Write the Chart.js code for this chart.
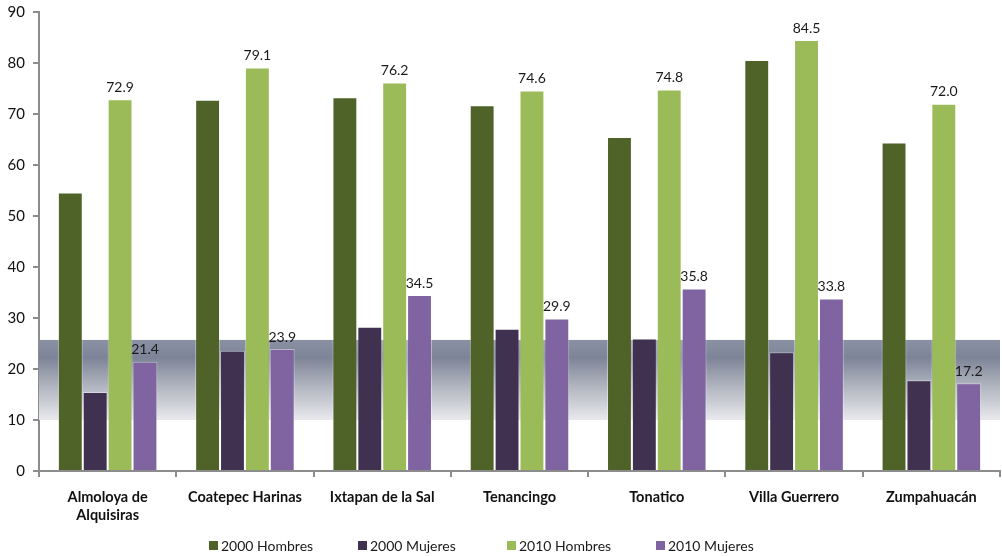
<!DOCTYPE html>
<html>
<head>
<meta charset="utf-8">
<script src="https://cdn.jsdelivr.net/npm/chart.js@4/dist/chart.umd.min.js"></script>
<style>
html,body{margin:0;padding:0;background:#fff;}
#wrap{width:1002px;height:556px;position:relative;}
</style>
</head>
<body>
<div id="wrap"><canvas id="c"></canvas></div>
<script>
const categories = [["Almoloya de","Alquisiras"],"Coatepec Harinas","Ixtapan de la Sal","Tenancingo","Tonatico","Villa Guerrero","Zumpahuacán"];
const hombres2000 = [54.6, 72.8, 73.3, 71.7, 65.5, 80.6, 64.4];
const mujeres2000 = [15.5, 23.6, 28.3, 27.9, 26.0, 23.3, 17.8];
const hombres2010 = [72.9, 79.1, 76.2, 74.6, 74.8, 84.5, 72.0];
const mujeres2010 = [21.4, 23.9, 34.5, 29.9, 35.8, 33.8, 17.2];
const seriesNames = ["2000 Hombres","2000 Mujeres","2010 Hombres","2010 Mujeres"];
const yTicks = [0,10,20,30,40,50,60,70,80,90];
const band = [10, 25.7];

const FONT = "Lato, 'Liberation Sans', sans-serif";

const bandPlugin = {
  id: 'band',
  beforeDatasetsDraw(chart) {
    const {ctx, chartArea, scales} = chart;
    const y1 = scales.y.getPixelForValue(band[1]);
    const y0 = scales.y.getPixelForValue(band[0]);
    const g = ctx.createLinearGradient(0, y1, 0, y0);
    g.addColorStop(0, '#8a91a3');
    g.addColorStop(0.22, '#7d8497');
    g.addColorStop(0.55, '#adb1bc');
    g.addColorStop(1, '#e9e9ed');
    ctx.save();
    ctx.fillStyle = g;
    ctx.fillRect(chartArea.left, y1, chartArea.right - chartArea.left, y0 - y1);
    ctx.restore();
  }
};

const labelPlugin = {
  id: 'vlabels',
  afterDatasetsDraw(chart) {
    const {ctx} = chart;
    ctx.save();
    ctx.font = "14px " + FONT;
    ctx.fillStyle = '#1a1a1a';
    ctx.textAlign = 'center';
    ctx.textBaseline = 'bottom';
    [2,3].forEach(di => {
      const meta = chart.getDatasetMeta(di);
      meta.data.forEach((bar, i) => {
        const v = chart.data.datasets[di].data[i];
        ctx.fillText(v.toFixed(1), bar.x, bar.y - 5);
      });
    });
    ctx.restore();
  }
};

// Legend drawn from the chart's own datasets (labels + colours)
const legendPlugin = {
  id: 'bottomLegend',
  afterDraw(chart) {
    const {ctx} = chart;
    const ds = chart.data.datasets;
    const startX = 209, step = 149, cy = 546;
    ctx.save();
    ctx.font = "14px " + FONT;
    ctx.textBaseline = 'middle';
    ctx.textAlign = 'left';
    ds.forEach((d, i) => {
      const x = startX + i * step;
      ctx.fillStyle = d.backgroundColor;
      ctx.fillRect(x, cy - 5, 9, 9);
      ctx.fillStyle = '#1a1a1a';
      ctx.fillText(d.label, x + 12, cy);
    });
    ctx.restore();
  }
};

new Chart(document.getElementById('c'), {
  type: 'bar',
  data: {
    labels: categories,
    datasets: [
      {label: seriesNames[0], data: hombres2000, backgroundColor: '#4f6228'},
      {label: seriesNames[1], data: mujeres2000, backgroundColor: '#403151'},
      {label: seriesNames[2], data: hombres2010, backgroundColor: '#9bbb59'},
      {label: seriesNames[3], data: mujeres2010, backgroundColor: '#8064a2'}
    ].map(d => Object.assign(d, {borderColor: 'rgba(255,255,255,0.4)', borderWidth: 1, categoryPercentage: 0.725, barPercentage: 1}))
  },
  options: {
    responsive: true,
    maintainAspectRatio: false,
    animation: false,
    layout: {padding: {top: 12, right: 2, left: 0, bottom: 30}},
    plugins: {
      legend: {display: false},
      tooltip: {enabled: false}
    },
    scales: {
      x: {
        grid: {display: true, drawOnChartArea: false, color: '#8c8c8c', lineWidth: 2, tickLength: 6, offset: true},
        border: {display: true, color: '#8c8c8c', width: 2},
        ticks: {color: '#111', font: {family: FONT, size: 14.5, weight: 'bold'}, padding: 12, maxRotation: 0, autoSkip: false},
        afterFit(s) { s.height = 55; }
      },
      y: {
        min: 0, max: 90,
        afterBuildTicks(s) { s.ticks = yTicks.map(v => ({value: v})); },
        grid: {display: true, drawOnChartArea: false, color: '#8c8c8c', lineWidth: 2, tickLength: 6},
        border: {display: true, color: '#8c8c8c', width: 2},
        ticks: {color: '#111', font: {family: FONT, size: 15}, padding: 8},
        afterFit(s) { s.width = 39; s.paddingTop = 0; }
      }
    }
  },
  plugins: [bandPlugin, labelPlugin, legendPlugin]
});
</script>
</body>
</html>
